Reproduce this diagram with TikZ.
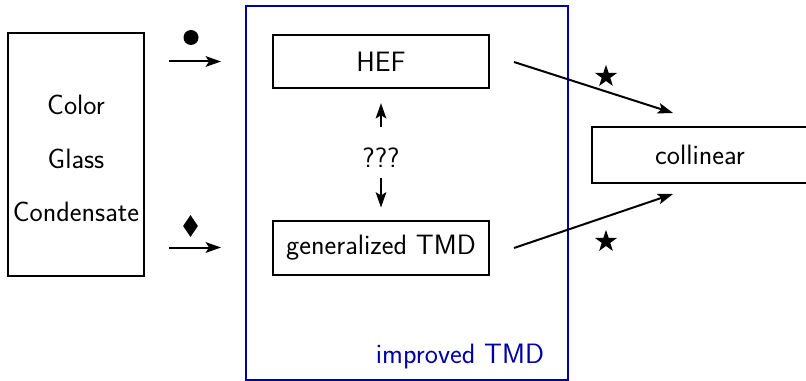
\documentclass[tikz,border=0pt]{standalone}
\usetikzlibrary{arrows.meta,shapes.geometric,calc}
\definecolor{tmdblue}{RGB}{0,0,165}
\begin{document}
\begin{tikzpicture}[x=0.75pt,y=-0.75pt,
  font=\sffamily\fontsize{21}{40}\selectfont,
  box/.style={draw,line width=1.5pt,inner sep=0pt},
  arr/.style={line width=1.5pt,-{Stealth[length=11.5pt,width=8pt,inset=2.5pt]}},
  bigstar/.style={star,star points=5,star point ratio=2.6,fill,inner sep=0pt,minimum size=17.5pt},
  dotmark/.style={circle,fill,inner sep=0pt,minimum size=11.25pt},
  diamark/.style={diamond,fill,inner sep=0pt,minimum width=11.25pt,minimum height=16.5pt}
]
\useasboundingbox (0,0) rectangle (806,381);
% frame
\node[draw=tmdblue,line width=1.9pt,inner sep=0pt,minimum width=241.5pt,minimum height=280.5pt] (frame) at (407,193) {};
\node[text=tmdblue,anchor=base east,inner sep=0pt] (lab) at ($(frame.south east)+(-25,-18)$) {improved TMD};
% boxes
\node[box,minimum width=102pt,minimum height=182.25pt] (cgc) at (76,154.5) {};
\node[align=center,inner sep=0pt] (cgctext) at ($(cgc)+(0,4)$) {Color\\Glass\\Condensate};
\node[box,minimum width=162pt,minimum height=40pt] (hef) at (381,61.5) {HEF};
\node[box,minimum width=162pt,minimum height=40.5pt] (gtmd) at (381,247.5) {generalized TMD};
\node[box,minimum width=162pt,minimum height=42pt] (col) at (700,155) {collinear};
\node[inner sep=0pt] (q) at (381,158) {???};
% arrows
\draw[arr,shorten <=18pt,shorten >=38.25pt] (cgc.east |- hef.west) -- (hef.west);
\draw[arr,shorten <=18pt,shorten >=38.25pt] (cgc.east |- gtmd.west) -- (gtmd.west);
\draw[arr,shorten <=23.25pt,shorten >=10.5pt] (q.center) -- (hef.south);
\draw[arr,shorten <=15pt,shorten >=9pt] (q.center) -- (gtmd.north);
\draw[arr] ($(hef.east)+(24,0.5)$) -- ($(col.north west)+(82,-13)$);
\draw[arr] ($(gtmd.east)+(24,0.5)$) -- ($(col.south west)+(82,10)$);
% marks
\node[dotmark] (m1) at (191,37.5) {};
\node[diamark] (m2) at (190.5,226) {};
\node[bigstar] (s1) at (606,76.5) {};
\node[bigstar] (s2) at (606,241.5) {};
\end{tikzpicture}
\end{document}
